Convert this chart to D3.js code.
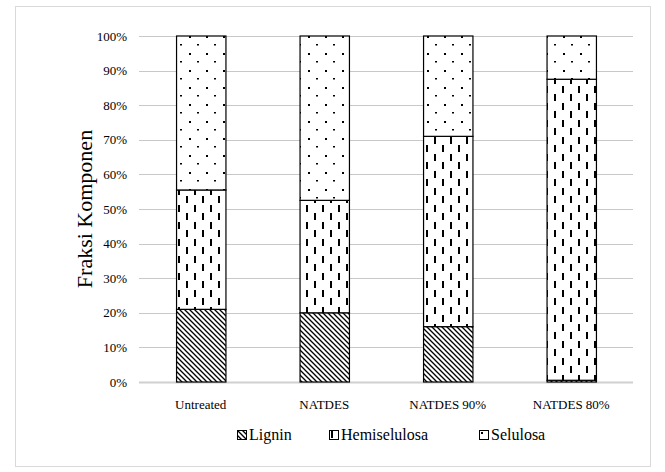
<!DOCTYPE html>
<html>
<head>
<meta charset="utf-8">
<script src="https://cdn.jsdelivr.net/npm/d3@7"></script>
<style>
  body { margin: 0; background: #fff; }
</style>
</head>
<body>
<div id="chart"></div>
<script>
// data
const categories = ["Untreated", "NATDES", "NATDES 90%", "NATDES 80%"];
const lignin = [21, 20, 16, 0.5];
const hemiselulosa = [34.5, 32.5, 55, 87];
const selulosa = [44.5, 47.5, 29, 12.5];
const seriesNames = ["Lignin", "Hemiselulosa", "Selulosa"];
const yTicks = [0, 10, 20, 30, 40, 50, 60, 70, 80, 90, 100];

const width = 665, height = 472;
const margin = { top: 36, right: 32, bottom: 90, left: 139 };
const serif = "'Liberation Serif'";

const svg = d3.select("#chart").append("svg")
    .attr("width", width)
    .attr("height", height);

// fill patterns
const defs = svg.append("defs");

const pLig = defs.append("pattern").attr("id", "pat-lignin")
    .attr("patternUnits", "userSpaceOnUse").attr("width", 5).attr("height", 5);
pLig.append("rect").attr("width", 5).attr("height", 5).attr("fill", "#fff");
pLig.append("path").attr("d", "M-1,-1 L6,6 M-1,4 L1,6 M4,-1 L6,1")
    .attr("stroke", "#000").attr("stroke-width", 1.3);

const pHemi = defs.append("pattern").attr("id", "pat-hemi")
    .attr("patternUnits", "userSpaceOnUse").attr("width", 16).attr("height", 17);
pHemi.append("rect").attr("width", 16).attr("height", 17).attr("fill", "#fff");
pHemi.append("rect").attr("x", 2).attr("y", 1).attr("width", 2).attr("height", 7).attr("fill", "#000");
pHemi.append("rect").attr("x", 10).attr("y", 9).attr("width", 2).attr("height", 7).attr("fill", "#000");

const pSel = defs.append("pattern").attr("id", "pat-sel")
    .attr("patternUnits", "userSpaceOnUse").attr("width", 17).attr("height", 17);
pSel.append("rect").attr("width", 17).attr("height", 17).attr("fill", "#fff");
pSel.append("rect").attr("x", 2).attr("y", 2).attr("width", 2).attr("height", 2).attr("fill", "#000");
pSel.append("rect").attr("x", 10).attr("y", 10).attr("width", 2).attr("height", 1.5).attr("fill", "#000");

const fills = ["url(#pat-lignin)", "url(#pat-hemi)", "url(#pat-sel)"];

// outer frame
svg.append("rect")
    .attr("x", 15.5).attr("y", 6.5)
    .attr("width", 635).attr("height", 460)
    .attr("fill", "none").attr("stroke", "#d9d9d9");

const x = d3.scaleBand()
    .domain(categories)
    .range([margin.left, width - margin.right])
    .paddingInner(0.6)
    .paddingOuter(0.3);

const y = d3.scaleLinear()
    .domain([0, 100])
    .range([height - margin.bottom, margin.top]);

// gridlines
svg.append("g")
    .selectAll("line")
    .data(yTicks)
    .join("line")
    .attr("x1", margin.left)
    .attr("x2", width - margin.right)
    .attr("y1", d => Math.round(y(d)) + 0.5)
    .attr("y2", d => Math.round(y(d)) + 0.5)
    .attr("stroke", d => d === 0 ? "#d0d0d0" : "#c8c8c8")
    .attr("stroke-width", d => d === 0 ? 2 : 1);

// y tick labels
svg.append("g")
    .selectAll("text")
    .data(yTicks)
    .join("text")
    .attr("x", margin.left - 12)
    .attr("y", d => y(d))
    .attr("dy", "0.35em")
    .attr("text-anchor", "end")
    .style("font-family", serif)
    .style("font-size", "13px")
    .text(d => d + "%");

// stacked bars
const rows = categories.map((c, i) => ({
    cat: c, Lignin: lignin[i], Hemiselulosa: hemiselulosa[i], Selulosa: selulosa[i]
}));
const stacked = d3.stack().keys(seriesNames)(rows);

svg.append("g")
    .selectAll("g")
    .data(stacked)
    .join("g")
    .attr("fill", (d, i) => fills[i])
    .selectAll("rect")
    .data(d => d)
    .join("rect")
    .attr("x", d => x(d.data.cat) + 0.5)
    .attr("y", d => y(d[1]))
    .attr("width", x.bandwidth())
    .attr("height", d => y(d[0]) - y(d[1]))
    .attr("stroke", "#000")
    .attr("stroke-width", 1.2);

// x labels
svg.append("g")
    .selectAll("text")
    .data(categories)
    .join("text")
    .attr("x", d => x(d) + x.bandwidth() / 2)
    .attr("y", height - margin.bottom + 27)
    .attr("text-anchor", "middle")
    .style("font-family", serif)
    .style("font-size", "13px")
    .text(d => d);

// y title
svg.append("text")
    .attr("transform", `translate(92,${(margin.top + height - margin.bottom) / 2}) rotate(-90)`)
    .attr("text-anchor", "middle")
    .style("font-family", serif)
    .style("font-size", "22px")
    .text("Fraksi Komponen");

// legend
const legendX = [237, 329, 479];
const legend = svg.append("g")
    .selectAll("g")
    .data(seriesNames)
    .join("g")
    .attr("transform", (d, i) => `translate(${legendX[i]},430)`);

legend.append("rect")
    .attr("x", 0.5).attr("y", 0.5)
    .attr("width", 9).attr("height", 9)
    .attr("fill", (d, i) => fills[i])
    .attr("stroke", "#000");

legend.append("text")
    .attr("x", 12)
    .attr("y", 10)
    .style("font-family", serif)
    .style("font-size", "16px")
    .text(d => d);
</script>
</body>
</html>
